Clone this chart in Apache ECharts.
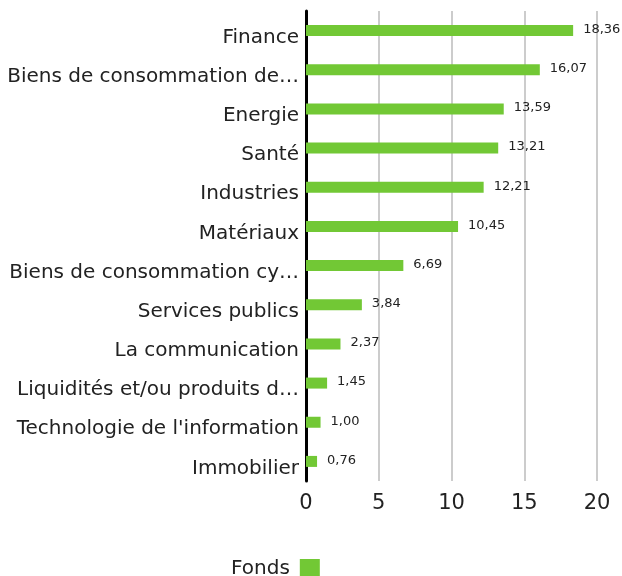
<!DOCTYPE html>
<html>
<head>
<meta charset="utf-8">
<script src="https://cdn.jsdelivr.net/npm/echarts@6/dist/echarts.min.js"></script>
<style>
  html, body { margin: 0; padding: 0; background: #fff; }
  #chart { width: 622px; height: 576px; }
</style>
</head>
<body>
<div id="chart"></div>
<script>
// secteurs (de haut en bas)
var categories = [
  'Finance',
  'Biens de consommation de base',
  'Energie',
  'Santé',
  'Industries',
  'Matériaux',
  'Biens de consommation cyclique',
  'Services publics',
  'La communication',
  'Liquidités et/ou produits dérivés',
  "Technologie de l'information",
  'Immobilier'
];
var fonds = [18.36, 16.07, 13.59, 13.21, 12.21, 10.45, 6.69, 3.84, 2.37, 1.45, 1.00, 0.76];
var xTicks = [0, 5, 10, 15, 20];

var font = 'DejaVu Sans';
var chart = echarts.init(document.getElementById('chart'));
chart.setOption({
  animation: false,
  textStyle: { fontFamily: font },
  grid: { left: 306, right: 25, top: 11, height: 470, containLabel: false, outerBoundsMode: 'none' },
  legend: {
    data: ['Fonds'],
    left: 226,
    top: 554,
    align: 'right',
    itemWidth: 20,
    itemHeight: 20,
    icon: 'rect',
    textStyle: { fontSize: 20, color: '#222', fontFamily: font, padding: [0, 5, 0, 0] }
  },
  xAxis: {
    type: 'value',
    min: xTicks[0],
    max: xTicks[xTicks.length - 1],
    interval: 5,
    axisLine: { show: false },
    axisTick: { show: false },
    splitLine: { lineStyle: { color: '#cccccc', width: 2 } },
    axisLabel: { fontSize: 21, color: '#222', margin: 12, fontFamily: font }
  },
  yAxis: {
    type: 'category',
    data: categories,
    inverse: true,
    axisLine: { show: true, lineStyle: { color: '#000', width: 3 } },
    axisTick: { show: false },
    axisLabel: {
      fontSize: 20,
      color: '#222',
      margin: 7,
      width: 295,
      overflow: 'truncate',
      ellipsis: '…',
      verticalAlign: 'top',
      lineHeight: 14,
      fontFamily: font
    }
  },
  series: [{
    name: 'Fonds',
    type: 'bar',
    data: fonds,
    barWidth: 11,
    itemStyle: { color: '#72c835' },
    label: {
      show: true,
      position: 'right',
      distance: 10,
      offset: [0, -1],
      fontSize: 13,
      color: '#222',
      fontFamily: font,
      formatter: function (p) { return p.value.toFixed(2).replace('.', ','); }
    }
  }]
});
</script>
</body>
</html>
